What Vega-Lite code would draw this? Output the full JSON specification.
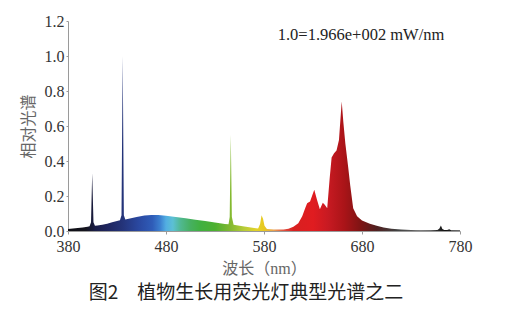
{
  "$schema": "https://vega.github.io/schema/vega-lite/v6.json",
  "width": 392,
  "height": 210,
  "autosize": {"type": "none"},
  "padding": {"left": 68, "top": 21, "right": 59, "bottom": 88},
  "background": "white",
  "config": {
    "view": {"stroke": null},
    "font": "Liberation Serif",
    "axis": {"grid": false, "domainColor": "#9a9a9a", "tickColor": "#9a9a9a", "labelFont": "Liberation Serif", "labelFontSize": 16, "labelColor": "#333333", "titleFont": "Liberation Serif, Noto Sans CJK SC", "titleFontSize": 16, "titleFontWeight": "normal", "titleColor": "#666666"}
  },
  "title": {
    "text": "图2　植物生长用荧光灯典型光谱之二",
    "orient": "bottom",
    "anchor": "middle",
    "dx": -18,
    "offset": 8,
    "font": "Noto Sans CJK SC",
    "fontSize": 19,
    "fontWeight": 400,
    "color": "#222222"
  },
  "datasets": {
    "spectrum": [
      {"wl": 380, "v": 0.012}, {"wl": 385, "v": 0.014}, {"wl": 390, "v": 0.017}, {"wl": 395, "v": 0.02},
      {"wl": 400, "v": 0.024}, {"wl": 402, "v": 0.027}, {"wl": 403.5, "v": 0.05}, {"wl": 404.7, "v": 0.33},
      {"wl": 406, "v": 0.05}, {"wl": 407.5, "v": 0.03}, {"wl": 410, "v": 0.032}, {"wl": 415, "v": 0.036},
      {"wl": 420, "v": 0.042}, {"wl": 425, "v": 0.05}, {"wl": 430, "v": 0.057}, {"wl": 433, "v": 0.062},
      {"wl": 434.6, "v": 0.09}, {"wl": 435.8, "v": 1.0}, {"wl": 437, "v": 0.09}, {"wl": 438.5, "v": 0.066},
      {"wl": 442, "v": 0.07}, {"wl": 450, "v": 0.08}, {"wl": 458, "v": 0.088}, {"wl": 465, "v": 0.092},
      {"wl": 472, "v": 0.091}, {"wl": 480, "v": 0.087}, {"wl": 490, "v": 0.08}, {"wl": 500, "v": 0.073},
      {"wl": 510, "v": 0.065}, {"wl": 520, "v": 0.057}, {"wl": 530, "v": 0.048}, {"wl": 540, "v": 0.04},
      {"wl": 543.8, "v": 0.038}, {"wl": 545, "v": 0.08}, {"wl": 546.1, "v": 0.55}, {"wl": 547.2, "v": 0.08},
      {"wl": 549, "v": 0.036}, {"wl": 555, "v": 0.03}, {"wl": 560, "v": 0.026}, {"wl": 565, "v": 0.021},
      {"wl": 570, "v": 0.017}, {"wl": 574, "v": 0.015}, {"wl": 576, "v": 0.04}, {"wl": 577.5, "v": 0.09},
      {"wl": 579, "v": 0.07}, {"wl": 580.5, "v": 0.03}, {"wl": 583, "v": 0.012}, {"wl": 590, "v": 0.009},
      {"wl": 596, "v": 0.008}, {"wl": 600, "v": 0.009}, {"wl": 605, "v": 0.013}, {"wl": 610, "v": 0.024},
      {"wl": 615, "v": 0.045}, {"wl": 619, "v": 0.085}, {"wl": 622, "v": 0.13}, {"wl": 624, "v": 0.158},
      {"wl": 627, "v": 0.168}, {"wl": 629, "v": 0.2}, {"wl": 631.3, "v": 0.236}, {"wl": 634, "v": 0.18},
      {"wl": 637, "v": 0.125}, {"wl": 640, "v": 0.162}, {"wl": 642, "v": 0.15}, {"wl": 644.5, "v": 0.13},
      {"wl": 647, "v": 0.3}, {"wl": 649, "v": 0.42}, {"wl": 651.5, "v": 0.445}, {"wl": 654, "v": 0.46},
      {"wl": 656.5, "v": 0.52}, {"wl": 659.3, "v": 0.74}, {"wl": 661, "v": 0.62}, {"wl": 663, "v": 0.5},
      {"wl": 666, "v": 0.36}, {"wl": 668, "v": 0.26}, {"wl": 671, "v": 0.13}, {"wl": 675, "v": 0.085},
      {"wl": 680, "v": 0.06}, {"wl": 688, "v": 0.042}, {"wl": 695, "v": 0.03}, {"wl": 702, "v": 0.02},
      {"wl": 710, "v": 0.013}, {"wl": 720, "v": 0.008}, {"wl": 730, "v": 0.006}, {"wl": 740, "v": 0.005},
      {"wl": 750, "v": 0.005}, {"wl": 757, "v": 0.006}, {"wl": 759, "v": 0.015}, {"wl": 760.5, "v": 0.032},
      {"wl": 762, "v": 0.012}, {"wl": 764, "v": 0.006}, {"wl": 767, "v": 0.006}, {"wl": 769, "v": 0.01},
      {"wl": 771, "v": 0.005}, {"wl": 775, "v": 0.004}, {"wl": 780, "v": 0.004}
    ],
    "note": [{"wl": 679, "v": 1.12, "label": "1.0=1.966e+002 mW/nm"}]
  },
  "encoding": {
    "x": {
      "field": "wl", "type": "quantitative",
      "scale": {"domain": [380, 780], "nice": false, "zero": false},
      "axis": {"values": [380, 480, 580, 680, 780], "title": "波长（nm）", "labelFont": "Liberation Serif", "labelFontSize": 16, "tickSize": 3, "labelPadding": 4, "titlePadding": 6, "labelFlush": false, "labelOverlap": false,
        "encode": {"labels": {"update": {"font": {"value": "Liberation Serif"}}}}}
    },
    "y": {
      "field": "v", "type": "quantitative",
      "scale": {"domain": [0, 1.2], "nice": false},
      "axis": {"values": [0, 0.2, 0.4, 0.6, 0.8, 1.0, 1.2], "format": ".1f", "title": "相对光谱", "labelFont": "Liberation Serif", "labelFontSize": 16, "tickSize": 2, "labelPadding": 2, "titlePadding": 8, "labelOverlap": false, "labelFlush": false,
        "encode": {"labels": {"update": {"font": {"value": "Liberation Serif"}}}}}
    }
  },
  "layer": [
    {
      "data": {"name": "spectrum"},
      "mark": {
        "type": "area",
        "interpolate": "linear",
        "color": {
          "gradient": "linear", "x1": 0, "x2": 1, "y1": 0, "y2": 0,
          "stops": [
            {"offset": 0, "color": "#0e0e14"},
            {"offset": 0.045, "color": "#14141e"},
            {"offset": 0.07, "color": "#1a1d48"},
            {"offset": 0.1, "color": "#1e255e"},
            {"offset": 0.14, "color": "#24347a"},
            {"offset": 0.18, "color": "#2a48a0"},
            {"offset": 0.215, "color": "#2f5cb8"},
            {"offset": 0.235, "color": "#3c80d0"},
            {"offset": 0.25, "color": "#52aee2"},
            {"offset": 0.2675, "color": "#5cc0d4"},
            {"offset": 0.2875, "color": "#50b890"},
            {"offset": 0.3125, "color": "#46b060"},
            {"offset": 0.3375, "color": "#40b040"},
            {"offset": 0.375, "color": "#4cb030"},
            {"offset": 0.4125, "color": "#80b830"},
            {"offset": 0.45, "color": "#b8cc38"},
            {"offset": 0.48, "color": "#e2d22a"},
            {"offset": 0.5, "color": "#e8c820"},
            {"offset": 0.525, "color": "#eaa050"},
            {"offset": 0.55, "color": "#e05040"},
            {"offset": 0.575, "color": "#d82020"},
            {"offset": 0.625, "color": "#e01c20"},
            {"offset": 0.6625, "color": "#c81a22"},
            {"offset": 0.705, "color": "#aa1418"},
            {"offset": 0.745, "color": "#801414"},
            {"offset": 0.7875, "color": "#502020"},
            {"offset": 0.8375, "color": "#404040"},
            {"offset": 0.8875, "color": "#606060"},
            {"offset": 0.9375, "color": "#303030"},
            {"offset": 0.9625, "color": "#101010"},
            {"offset": 1, "color": "#404040"}
          ]
        }
      }
    },
    {
      "data": {"name": "note"},
      "mark": {"type": "text", "font": "Liberation Serif", "fontSize": 16.5, "color": "#222222", "align": "center", "baseline": "middle"},
      "encoding": {
        "text": {"field": "label"}
      }
    }
  ]
}
